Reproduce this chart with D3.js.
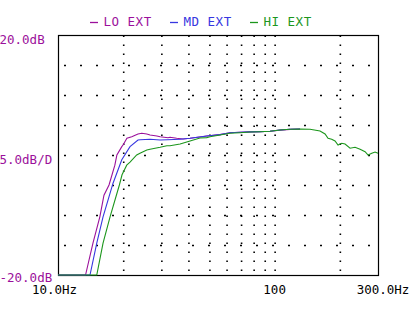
<!DOCTYPE html>
<html><head><meta charset="utf-8">
<script src="https://cdn.jsdelivr.net/npm/d3@7/dist/d3.min.js"></script>
<style>
html,body{margin:0;padding:0;background:#fff;}
svg{display:block;}
text{font-family:"DejaVu Sans Mono","Liberation Mono",monospace;}
</style></head>
<body><svg id="c" width="416" height="310"></svg>
<script>
// ---- data (frequency Hz, level dB) ----
const seriesNames = ["LO EXT", "MD EXT", "HI EXT"];
const seriesColors = ["#9b109b", "#3737e0", "#1c961c"];

const loFreq = [10, 13.4, 14.5, 15.6, 16.3, 17.2, 18.3, 18.7, 19.7, 20.0, 20.8, 21.9, 23.4, 24.35, 25.7, 26.6, 28.6, 29.6, 32.2, 32.9, 35.3, 37.8, 40.7, 45, 48.6, 56, 62.2, 69.2, 77, 85.6, 95.2, 105.9, 117.8, 131];
const loDb   = [-20, -20, -14.7, -10.3, -6.7, -5.0, -1.7, 0.0, 1.4, 1.7, 2.8, 3.05, 3.5, 3.62, 3.5, 3.33, 3.17, 3.05, 2.88, 2.95, 2.78, 2.67, 2.78, 3.0, 3.17, 3.4, 3.7, 3.78, 3.85, 3.88, 3.95, 4.15, 4.27, 4.32];

const mdFreq = [10, 14.05, 15.1, 16.14, 17.95, 19.7, 21.5, 23.4, 24.0, 26.6, 29.6, 32, 36.6, 40.7, 45, 48.6, 56, 62.2, 69.2, 77, 85.6, 95.2, 105.9, 117.8, 131];
const mdDb   = [-20, -20, -14.7, -10.3, -4.7, -0.8, 1.4, 2.5, 2.55, 2.62, 2.5, 2.55, 2.62, 2.78, 3.0, 3.17, 3.4, 3.72, 3.78, 3.85, 3.9, 3.96, 4.17, 4.28, 4.33];

const hiFreq = [10, 15.1, 16.14, 17.39, 19.2, 19.75, 20.76, 21.5, 23.08, 23.9, 25.7, 26.6, 29.6, 31.8, 32.9, 36.6, 40.7, 45.2, 48.6, 50.3, 56, 62.2, 69.2, 77, 85.6, 95.2, 105.9, 117.8, 131, 145.7, 162, 170.9, 176.4, 183.4, 190, 196.2, 204.1, 211.4, 222.9, 235.1, 248, 261.5, 270, 280.8, 290.8, 300];
const hiDb   = [-20, -20, -14.7, -10.3, -5.0, -3.3, -1.7, -1.2, 0.0, 0.28, 0.83, 0.95, 1.28, 1.55, 1.55, 1.83, 2.33, 2.83, 2.9, 3.05, 3.33, 3.62, 3.72, 3.83, 3.88, 3.95, 4.17, 4.28, 4.33, 4.28, 4.0, 3.5, 2.78, 2.62, 2.33, 1.67, 1.95, 1.83, 1.12, 1.28, 0.95, 0.55, 0.0, 0.28, 0.5, 0.28];

const xGridTicks = [20, 30, 40, 50, 60, 70, 80, 90, 100, 200];
const yGridTicks = [-15, -10, -5, 0, 5, 10, 15];
const xLabels = [[10, "10.0Hz"], [100, "100"], [300, "300.0Hz"]];
const yLabels = [[20, "20.0dB"], [0, "5.0dB/D"], [-20, "-20.0dB"]];

// ---- drawing ----
const svg = d3.select("#c");
const L = 58, R = 378, T = 35, B = 275;
const x = d3.scaleLog().domain([10, 300]).range([L, R]);
const y = d3.scaleLinear().domain([-20, 20]).range([B, T]);
const purple = "#9b109b";

// grid via axes
const gx = svg.append("g").attr("transform", `translate(0,${B})`)
  .call(d3.axisBottom(x).tickValues(xGridTicks).tickSize(-(B - T)).tickFormat(""));
gx.select(".domain").remove();
gx.selectAll("line").attr("stroke", "#000").attr("stroke-width", 1.6)
  .attr("stroke-dasharray", "1.6,7.4").attr("transform", "translate(0,-4)");

const gy = svg.append("g").attr("transform", `translate(${L},0)`)
  .call(d3.axisLeft(y).tickValues(yGridTicks).tickSize(-(R - L)).tickFormat(""));
gy.select(".domain").remove();
gy.selectAll("line").attr("stroke", "#000").attr("stroke-width", 1.3)
  .attr("stroke-dasharray", "0,6,2,8");

// frame
svg.append("rect").attr("x", L + 0.5).attr("y", T + 0.5)
  .attr("width", R - L).attr("height", B - T)
  .attr("fill", "none").attr("stroke", "#000").attr("stroke-width", 1.2);

// curves
const line = d3.line().x(d => x(d[0])).y(d => y(d[1]));
const series = [
  d3.zip(loFreq, loDb),
  d3.zip(mdFreq, mdDb),
  d3.zip(hiFreq, hiDb)
];
series.forEach((s, i) => {
  svg.append("path").datum(s).attr("d", line)
    .attr("fill", "none").attr("stroke", seriesColors[i]).attr("stroke-width", 1.1);
});

// legend
const legX = [90, 170, 250];
seriesNames.forEach((n, i) => {
  svg.append("line").attr("x1", legX[i]).attr("x2", legX[i] + 8)
    .attr("y1", 22.5).attr("y2", 22.5).attr("stroke", seriesColors[i]).attr("stroke-width", 1.3);
  svg.append("text").attr("x", legX[i] + 13.5).attr("y", 25.5)
    .attr("fill", seriesColors[i]).attr("font-size", 12.5).attr("letter-spacing", 0.5).text(n);
});

// y labels
yLabels.forEach(([v, t]) => {
  svg.append("text").attr("x", -0.5).attr("y", y(v) + (v === -20 ? 6.5 : 8.5))
    .attr("fill", purple).attr("font-size", 12.5).text(t);
});

// x labels
const xOff = { 10: -3.5, 100: 0, 300: 5 };
xLabels.forEach(([v, t]) => {
  svg.append("text").attr("x", x(v) + xOff[v]).attr("y", 293.5)
    .attr("text-anchor", "middle").attr("fill", "#000").attr("font-size", 12.5).text(t);
});
</script></body></html>
